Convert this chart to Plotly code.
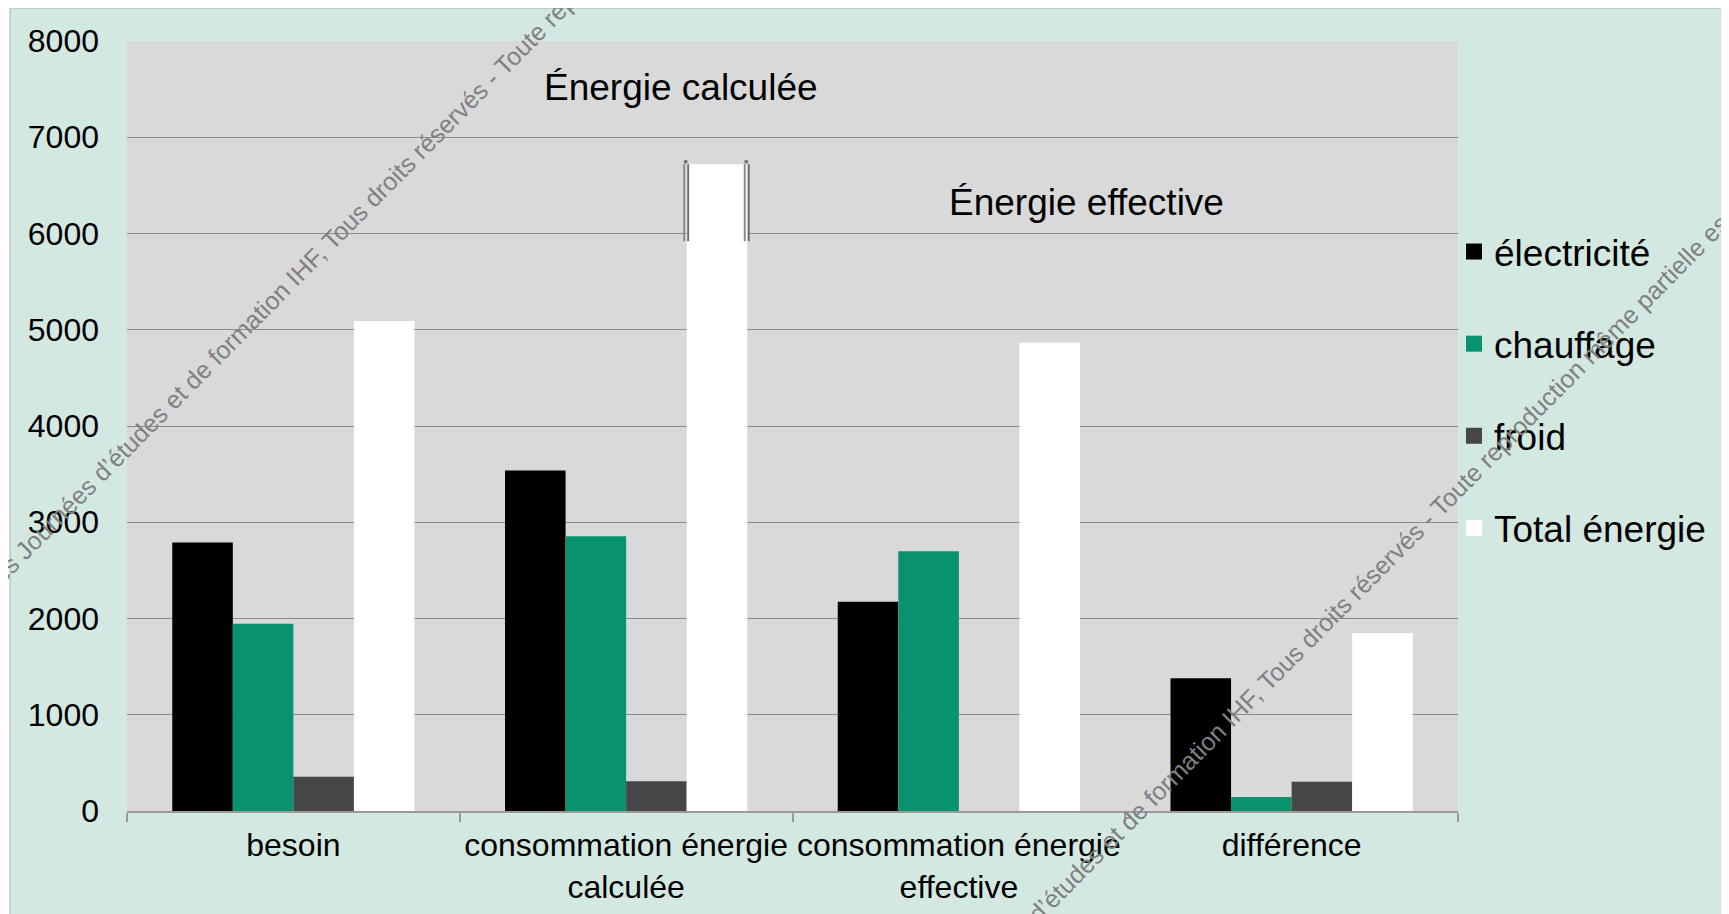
import plotly.graph_objects as go

categories = ["besoin", "consommation énergie<br>calculée", "consommation énergie<br>effective", "différence"]
series_names = ["électricité", "chauffage", "froid", "Total énergie"]
electricite = [2790, 3537, 2175, 1380]
chauffage = [1945, 2855, 2700, 145]
froid = [355, 310, 0, 305]
total = [5090, 6720, 4865, 1850]
callout_bottom = 5920  # lower end of the bracket lines on the tallest bar

colors = ["#000000", "#08936E", "#464646", "#FFFFFF"]
values = [electricite, chauffage, froid, total]

W, H = 1729, 914
OFF = 8  # page body margin: page px = figure px + OFF
# plot area in page pixels
P_L, P_R, P_T, P_B = 127, 1458, 41, 811
L = P_L - OFF
R = W - (P_R - OFF)
T = P_T - OFF
B = H - (P_B - OFF)
pw, ph = W - L - R, H - T - B

FONT = "Liberation Sans, Arial, sans-serif"


def px(pagex):
    return (pagex - OFF - L) / pw


def py(pagey):
    return (H - B - (pagey - OFF)) / ph


fig = go.Figure()
for i, (name, vals, col) in enumerate(zip(series_names, values, colors)):
    fig.add_trace(go.Bar(
        x=categories, y=vals, name=name,
        marker=dict(color=col, line=dict(width=0)),
        showlegend=False, hoverinfo="x+y+name",
    ))
# legend entries (larger square symbols)
for i, (name, col) in enumerate(zip(series_names, colors)):
    fig.add_trace(go.Scatter(
        x=[None], y=[None], name=name, mode="markers",
        marker=dict(symbol="square", size=16, color=col, line=dict(width=0)),
        legendgroup=f"g{i}", showlegend=True,
    ))

shapes = []
# outer chart area (mint) with a thin border on left/top
shapes.append(dict(type="rect", xref="paper", yref="paper", layer="below",
                   x0=px(10), x1=px(W + 40), y0=py(H + 40), y1=py(8),
                   fillcolor="#D4E8E2", line=dict(color="#A8B3B0", width=1)))
# plot area gray
shapes.append(dict(type="rect", xref="paper", yref="paper", layer="below",
                   x0=0, x1=1, y0=0, y1=1, fillcolor="#D9D9D9", line=dict(width=0)))

# bracket lines on the tallest total bar (category index 1, 4th bar)
bargap = 0.272
nb = 4
bw = (1 - bargap) / nb
ci = 1
left_edge = ci - (1 - bargap) / 2 + 3 * bw
right_edge = left_edge + bw
u = 1.0 / (pw / len(categories))  # one pixel in x data units
for edge in (left_edge, right_edge):
    for off, col in ((-2.5, "#8A8A8A"), (1.5, "#6E6E6E")):
        shapes.append(dict(type="line", xref="x", yref="y", layer="above",
                           x0=edge + off * u, x1=edge + off * u,
                           y0=callout_bottom, y1=total[ci],
                           line=dict(color=col, width=2)))
    shapes.append(dict(type="circle", xref="x", yref="y", layer="above",
                       x0=edge - 3.0 * u, x1=edge + 1.0 * u,
                       y0=total[ci] + 5, y1=total[ci] + 45,
                       fillcolor="#777777", line=dict(width=0)))

annotations = [
    dict(text="Énergie calculée", xref="paper", yref="paper",
         x=px(681), y=py(88), xanchor="center", yanchor="middle", showarrow=False,
         font=dict(size=37, color="#000000", family=FONT)),
    dict(text="Énergie effective", xref="paper", yref="paper",
         x=px(1086), y=py(202), xanchor="center", yanchor="middle", showarrow=False,
         font=dict(size=37, color="#000000", family=FONT)),
]

wm = "Les Journées d’études et de formation IHF, Tous droits réservés - Toute reproduction même partielle est interdite"
for cx, cy in ((423, 147), (1359, 588)):
    annotations.append(dict(text=wm, xref="paper", yref="paper",
                            x=px(cx), y=py(cy),
                            xanchor="center", yanchor="middle",
                            showarrow=False, textangle=-45.3,
                            font=dict(size=25, color="#808080", family=FONT)))

fig.update_layout(
    width=W, height=H,
    margin=dict(l=L, r=R, t=T, b=B, pad=0, autoexpand=False),
    paper_bgcolor="#FFFFFF",
    plot_bgcolor="#D9D9D9",
    barmode="group", bargap=bargap, bargroupgap=0,
    font=dict(family=FONT, color="#000000"),
    showlegend=True,
    legend=dict(x=px(1454), y=py(221), xanchor="left", yanchor="top",
                font=dict(size=37, family=FONT, color="#000000"),
                bgcolor="rgba(0,0,0,0)", tracegroupgap=41,
                itemclick=False, itemdoubleclick=False),
    shapes=shapes,
    annotations=annotations,
    xaxis=dict(
        type="category", categoryorder="array", categoryarray=categories,
        range=[-0.5, len(categories) - 0.5],
        tickson="boundaries", ticks="outside", ticklen=9, tickcolor="#9A9A9A", tickwidth=1.5,
        showline=True, linecolor="#9A9A9A", linewidth=2,
        showgrid=False, zeroline=False, automargin=False, tickangle=0,
        tickfont=dict(size=32, family=FONT, color="#000000"),
        ticklabelstandoff=5,
    ),
    yaxis=dict(
        range=[0, 8000], dtick=1000, tick0=0,
        showgrid=True, gridcolor="#8A8A8A", gridwidth=1,
        zeroline=False, showline=False, ticks="", automargin=False,
        tickfont=dict(size=32, family=FONT, color="#000000"),
        ticklabelstandoff=27,
    ),
)

fig.write_html("out.html")
